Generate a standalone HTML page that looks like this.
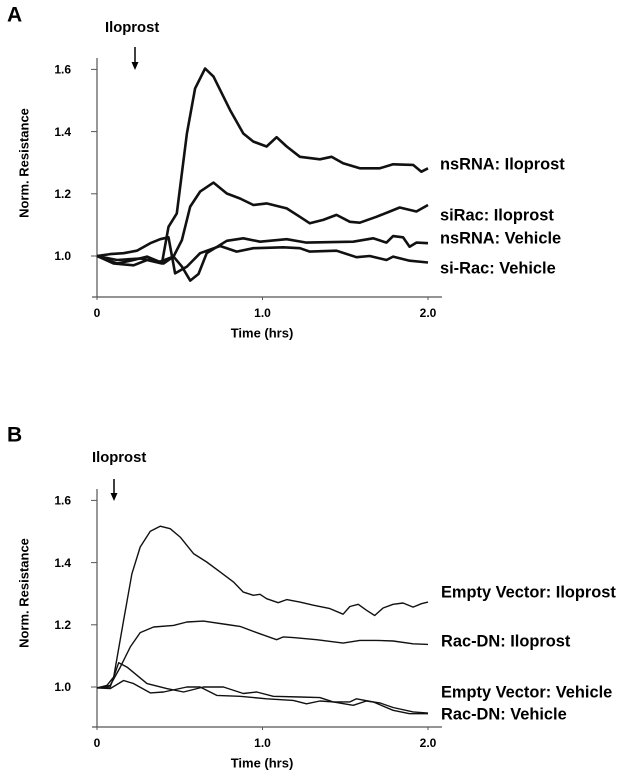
<!DOCTYPE html>
<html><head><meta charset="utf-8"><style>
html,body{margin:0;padding:0;background:#fff;}
svg{display:block;font-family:"Liberation Sans",Arial,sans-serif;font-weight:bold;}
</style></head><body>
<svg id="fig" width="624" height="778" viewBox="0 0 624 778"></svg>
<script>
// Panel A data
const tA = [0,.1,.221,.302,.392,.432,.482,.543,.593,.653,.704,.804,.884,.945,1.025,1.085,1.146,1.226,1.347,1.417,1.487,1.588,1.709,1.789,1.910,1.960,2.0];
const nsIlo = [1.0,.976,.97,.987,.976,1.094,1.137,1.394,1.539,1.603,1.577,1.469,1.394,1.368,1.352,1.382,1.352,1.319,1.311,1.319,1.298,1.282,1.282,1.295,1.293,1.271,1.282];
const tA2 = [0,.121,.221,.302,.402,.462,.513,.563,.623,.704,.784,.864,.945,1.025,1.146,1.226,1.286,1.367,1.447,1.528,1.588,1.688,1.769,1.829,1.930,2.0];
const siIlo = [1.0,.976,.987,.998,.976,.998,1.051,1.159,1.207,1.236,1.201,1.185,1.164,1.169,1.153,1.126,1.105,1.116,1.132,1.110,1.107,1.126,1.143,1.156,1.143,1.164];
const tA3 = [0,.121,.261,.382,.462,.513,.563,.613,.663,.784,.884,.985,1.146,1.266,1.548,1.668,1.749,1.789,1.849,1.889,1.930,2.0];
const nsVeh = [1.0,.987,.992,.982,.998,.966,.921,.942,1.009,1.049,1.057,1.046,1.054,1.043,1.046,1.057,1.043,1.064,1.060,1.030,1.043,1.041];
const tA4 = [0,.080,.161,.241,.322,.382,.432,.472,.543,.623,.744,.844,.945,1.126,1.226,1.286,1.447,1.568,1.648,1.749,1.789,1.889,2.0];
const siVeh = [1.0,1.006,1.009,1.017,1.041,1.054,1.060,.944,.966,1.009,1.032,1.014,1.025,1.028,1.025,1.014,1.017,.996,1.0,.987,.998,.985,.979];
// Panel B data
const tB1 = [0,.060,.101,.161,.211,.261,.322,.382,.442,.503,.583,.663,.744,.824,.884,.945,.985,1.025,1.095,1.146,1.226,1.307,1.407,1.487,1.528,1.578,1.628,1.678,1.729,1.789,1.849,1.910,1.960,2.0];
const evIlo = [.997,1.005,1.032,1.214,1.364,1.450,1.501,1.517,1.509,1.482,1.429,1.402,1.370,1.338,1.305,1.295,1.298,1.284,1.271,1.281,1.273,1.263,1.252,1.234,1.259,1.266,1.247,1.230,1.254,1.266,1.270,1.257,1.268,1.273];
const tB2 = [0,.080,.141,.201,.261,.342,.462,.543,.643,.784,.864,.985,1.085,1.126,1.186,1.327,1.487,1.588,1.688,1.789,1.910,2.0];
const dnIlo = [.997,1.005,1.064,1.129,1.175,1.193,1.198,1.209,1.212,1.201,1.195,1.171,1.152,1.161,1.159,1.152,1.141,1.150,1.150,1.148,1.139,1.137];
const tB3 = [0,.080,.131,.181,.302,.422,.523,.643,.764,.884,.965,1.065,1.226,1.347,1.427,1.528,1.568,1.668,1.789,1.889,2.0];
const evVeh = [.997,1.0,1.078,1.064,1.011,.995,.984,1.0,1.0,.979,.984,.970,.968,.966,.952,.952,.962,.952,.925,.914,.914];
const tB4 = [0,.080,.161,.221,.322,.402,.543,.623,.724,.864,1.025,1.186,1.266,1.347,1.427,1.548,1.628,1.709,1.789,1.910,2.0];
const dnVeh = [.997,.995,1.021,1.011,.981,.984,1.0,1.0,.973,.970,.962,.957,.946,.955,.952,.941,.955,.949,.934,.920,.916];
const yTicks = [1.0,1.2,1.4,1.6];
const yTickLabels = ["1.0","1.2","1.4","1.6"];
const xTicks = [0,1,2];
const xTickLabels = ["0","1.0","2.0"];

const NS="http://www.w3.org/2000/svg";
const svg=document.getElementById('fig');
function mk(tag,attrs,parent){const e=document.createElementNS(NS,tag);for(const k in attrs)e.setAttribute(k,attrs[k]);(parent||svg).appendChild(e);return e;}
function txt(x,y,s,size,anchor,name){const e=mk('text',{x:x,y:y,'font-size':size,'text-anchor':anchor||'start','dominant-baseline':'middle',fill:'#000'});e.textContent=s;


return e;}

function panel(o){
  const g=mk('g',{});
  
  
  const X=t=>97+t*165.5;
  const Y=v=>o.y1-(v-1)*o.perUnit;
  const ya=mk('line',{x1:97,y1:o.top,x2:97,y2:o.bottom,stroke:'#555','stroke-width':1.2},g);
  
  
  const xa=mk('line',{x1:92,y1:o.bottom,x2:442,y2:o.bottom,stroke:'#555','stroke-width':1.2},g);
  
  
  yTicks.forEach((v,i)=>{
    const tk=mk('line',{x1:91,y1:Y(v),x2:97,y2:Y(v),stroke:'#555','stroke-width':1},g);
    
    
    g.appendChild(txt(71,Y(v)+1,yTickLabels[i],12,'end','y-tick-label'));
  });
  xTicks.forEach((t,i)=>{
    const tk=mk('line',{x1:X(t),y1:o.bottom,x2:X(t),y2:o.bottom+3,stroke:'#555','stroke-width':1},g);
    
    
    g.appendChild(txt(X(t),o.bottom+17,xTickLabels[i],12,'middle','x-tick-label'));
  });
  g.appendChild(txt(262,o.bottom+37,'Time (hrs)',13,'middle','x-axis-title'));
  const yt=txt(0,0,'Norm. Resistance',13,'middle','y-axis-title');
  yt.setAttribute('transform','translate(25,'+o.ytitle+') rotate(-90)');
  g.appendChild(yt);
  g.appendChild(txt(7,o.letterY,o.letter,21,'start','panel-label'));
  g.appendChild(txt(o.iloX,o.iloY,'Iloprost',14.8,'start','iloprost-label'));
  const ar=mk('line',{x1:o.arX,y1:o.arY1,x2:o.arX,y2:o.arY2-6,stroke:'#000','stroke-width':1.5},g);
  
  
  const ah=mk('polygon',{points:(o.arX-3.5)+','+(o.arY2-8)+' '+(o.arX+3.5)+','+(o.arY2-8)+' '+o.arX+','+o.arY2,fill:'#000'},g);
  
  
  o.series.forEach(s=>{
    const d=s.t.map((t,i)=>(i?'L':'M')+X(t).toFixed(1)+','+Y(s.v[i]).toFixed(1)).join(' ');
    const p=mk('path',{d:d,fill:'none',stroke:'#111','stroke-width':o.sw,'stroke-linejoin':'round'},g);
    
    
    g.appendChild(txt(o.labelX,s.ly,s.label,16.4,'start',s.name+'-label'));
  });
}
panel({name:'panel-a',letter:'A',letterY:16,y1:256,perUnit:311,top:58,bottom:297,ytitle:163,iloX:105,iloY:28,arX:135,arY1:47,arY2:70,sw:2.6,labelX:440,
 series:[{t:tA,v:nsIlo,name:'nsrna-iloprost',label:'nsRNA: Iloprost',ly:165},
 {t:tA2,v:siIlo,name:'sirac-iloprost',label:'siRac: Iloprost',ly:216},
 {t:tA3,v:nsVeh,name:'nsrna-vehicle',label:'nsRNA: Vehicle',ly:239},
 {t:tA4,v:siVeh,name:'sirac-vehicle',label:'si-Rac: Vehicle',ly:269}]});
panel({name:'panel-b',letter:'B',letterY:436,y1:687,perUnit:311,top:489,bottom:727,ytitle:593,iloX:92,iloY:458,arX:114,arY1:479,arY2:501,sw:1.4,labelX:441,
 series:[{t:tB1,v:evIlo,name:'empty-vector-iloprost',label:'Empty Vector: Iloprost',ly:593},
 {t:tB2,v:dnIlo,name:'rac-dn-iloprost',label:'Rac-DN: Iloprost',ly:642},
 {t:tB3,v:evVeh,name:'empty-vector-vehicle',label:'Empty Vector: Vehicle',ly:693},
 {t:tB4,v:dnVeh,name:'rac-dn-vehicle',label:'Rac-DN: Vehicle',ly:715}]});
</script>
</body></html>
